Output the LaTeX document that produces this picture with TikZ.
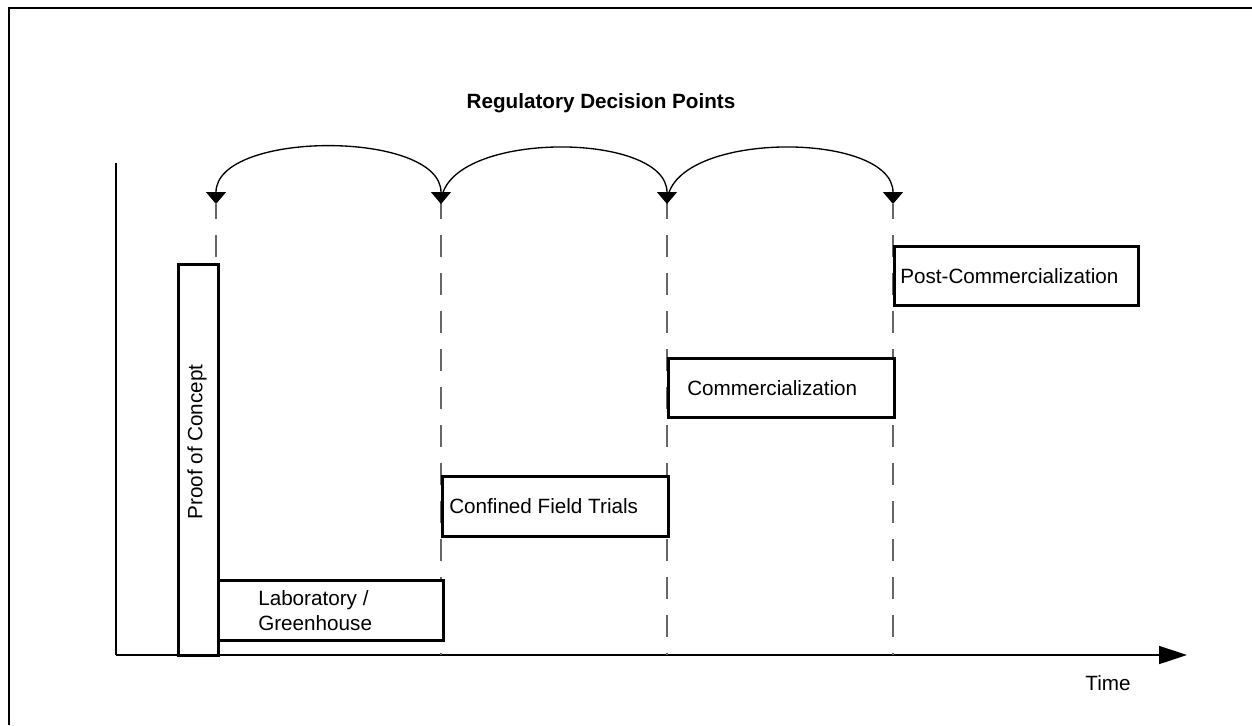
\documentclass[tikz,border=0pt]{standalone}
\usepackage{fontspec}
\setmainfont{Liberation Sans}
\usetikzlibrary{arrows.meta,positioning}

\begin{document}
\begin{tikzpicture}[x=0.75pt, y=-0.75pt,
    every node/.style={font=\fontsize{15.5}{18.75}\selectfont, inner sep=0pt},
    phase/.style 2 args={draw, line width=2pt, fill=white, anchor=north west,
        minimum width=#1*0.75pt, minimum height=#2*0.75pt},
    phasetext/.style={align=left},
    tip/.style={line width=1pt, -{Triangle[length=9pt,width=15pt]}}]

    \useasboundingbox (0,0) rectangle (1252,725);
    \draw[line width=1.5pt] (9,725) -- (9,8) -- (1252,8);

    \node[font=\bfseries\fontsize{15.5}{18.75}\selectfont] (title) at (601,103) {Regulatory Decision Points};

    % axes
    \coordinate (origin) at (116,655);
    \coordinate (ytop) at (116,163);
    \coordinate (xend) at (1187,655);
    \draw[line width=1.2pt] (ytop) -- (origin);
    \draw[line width=1.2pt, -{Triangle[length=21pt,width=13.5pt]}] (origin) -- (xend);
    \node (time) at (1108,683) {Time};

    % decision points
    \foreach \n/\x in {1/216,2/441,3/667,4/893} {
        \coordinate (dp\n) at (\x,204);
        \coordinate (ax\n) at (\x,655);
        \draw[black!60, line width=1pt, dash pattern=on 16.5pt off 12pt, dash phase=5pt] (dp\n) -- (ax\n);
    }
    \draw[tip, {Triangle[length=9pt,width=15pt]}-{Triangle[length=9pt,width=15pt]}] (dp2) .. controls +(0,-74) and +(0,-74) .. (dp1);
    \draw[tip] (dp2) .. controls +(0,-74) and +(0,-74) .. (dp3);
    \draw[tip] (dp3) .. controls +(0,-74) and +(0,-74) .. (dp4);

    % phases
    \node[phase={40}{391}] (poc) at (177,263) {};
    \node[rotate=90] (poctxt) at (197,442) {Proof of Concept};
    \node[phase={225}{60}] (lab) at (217,579) {};
    \node[phasetext, right=30.75pt of lab.west] (labtxt) {Laboratory /\\Greenhouse};
    \node[phase={226}{60}] (cft) at (441,475) {};
    \node[phasetext, right=6pt of cft.west] (cfttxt) {Confined Field Trials};
    \node[phase={226}{59}] (com) at (667,357) {};
    \node[phasetext, right=15pt of com.west] (comtxt) {Commercialization};
    \node[phase={244}{59}] (post) at (893,245) {};
    \node[phasetext, right=5.25pt of post.west] (posttxt) {Post-Commercialization};

\end{tikzpicture}
\end{document}
